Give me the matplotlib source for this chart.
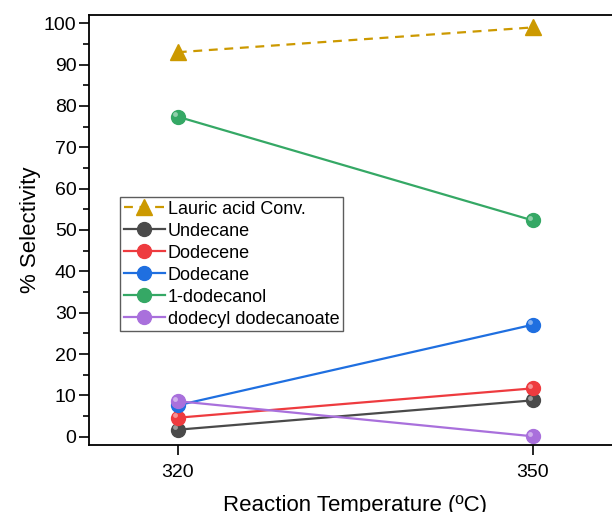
import matplotlib
matplotlib.use("Agg")
import matplotlib.pyplot as plt
from matplotlib.ticker import MultipleLocator
from matplotlib.transforms import offset_copy
from matplotlib.colors import to_rgb

plt.rcParams['font.family'] = ['Liberation Sans', 'DejaVu Sans']

temps = [320, 350]
lauric_conv = [93.0, 99.0]
undecane = [1.7, 8.8]
dodecene = [4.6, 11.7]
dodecane = [7.6, 27.1]
dodecanol = [77.4, 52.3]
dodecyl_dodecanoate = [8.6, 0.1]

series = [
    ("Undecane", undecane, "#4a4a4a"),
    ("Dodecene", dodecene, "#ee3b3f"),
    ("Dodecane", dodecane, "#1f6fe0"),
    ("1-dodecanol", dodecanol, "#35a865"),
    ("dodecyl dodecanoate", dodecyl_dodecanoate, "#a970dc"),
]

def lighten(c, f=0.5):
    r, g, b = to_rgb(c)
    return (r + (1 - r) * f, g + (1 - g) * f, b + (1 - b) * f)

fig = plt.figure(figsize=(6.12, 5.12), dpi=100)
ax = fig.add_axes([89/612, 1-445/512, 532.75/612, 430/512])
hl = offset_copy(ax.transData, fig=fig, x=-2.5, y=2.5, units='dots')

ax.plot(temps, lauric_conv, linestyle=(0, (4, 3)), color="#cc9900", lw=1.6,
        marker="^", markersize=11, markerfacecolor="#cc9900", markeredgecolor="#cc9900",
        label="Lauric acid Conv.")
for name, vals, col in series:
    ax.plot(temps, vals, color=col, lw=1.6, marker="o", markersize=10,
            markerfacecolor=col, markeredgecolor=col, label=name)
    ax.plot(temps, vals, linestyle='none', marker="o", markersize=3.5,
            markerfacecolor=lighten(col, 0.45), markeredgecolor='none', transform=hl)

ax.set_xlim(312.5, 357.5)
ax.set_ylim(-2, 102)
ax.set_xticks(temps)
ax.yaxis.set_major_locator(MultipleLocator(10))
ax.yaxis.set_minor_locator(MultipleLocator(5))
ax.tick_params(axis='both', which='major', direction='out', length=7, width=1.2, labelsize=14)
ax.tick_params(axis='y', which='minor', direction='out', length=4, width=1.2)
ax.tick_params(axis='x', which='major', pad=7)
ax.tick_params(axis='y', which='major', pad=2)
for s in ax.spines.values():
    s.set_linewidth(1.3)
ax.spines['right'].set_visible(False)

ax.set_ylabel("% Selectivity", fontsize=16, labelpad=2)
ax.set_xlabel("Reaction Temperature (ºC)", fontsize=16, labelpad=10)

leg = ax.legend(loc='upper left', bbox_to_anchor=(0.058, 0.577), borderaxespad=0,
                fontsize=13, frameon=True, fancybox=False, handlelength=2.3,
                handletextpad=0.15, labelspacing=0.28, borderpad=0.2)
leg.get_frame().set_edgecolor("#333333")
leg.get_frame().set_linewidth(1.0)

fig.savefig("out.png", dpi=100)
